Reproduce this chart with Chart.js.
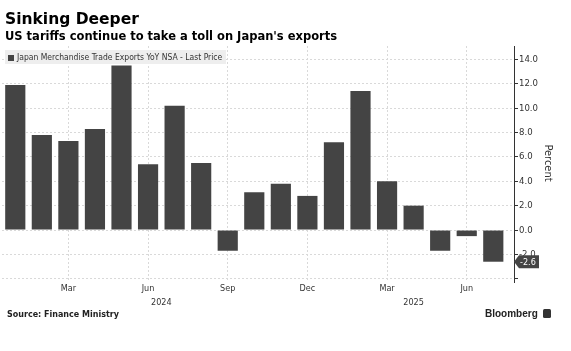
<!DOCTYPE html>
<html>
<head>
<meta charset="utf-8">
<script src="https://cdn.jsdelivr.net/npm/chart.js@4/dist/chart.umd.min.js"></script>
<style>
    body { margin: 0; background: #fff; }
    #wrap { position: relative; width: 571px; height: 351px; overflow: hidden; }
    #title { position: absolute; left: 5px; top: 10px; font: bold 15.5px "DejaVu Sans", sans-serif; color: #000; }
    #subtitle { position: absolute; left: 5px; top: 29px; font: bold 11.5px "DejaVu Sans", sans-serif; color: #000; }
    #legend { position: absolute; left: 5px; top: 50px; height: 14px; padding: 0 4px 0 3px; background: #eeeeee;
        font: 8.5px "DejaVu Sans Condensed", "DejaVu Sans", sans-serif; color: #333; line-height: 14px; white-space: nowrap; }
    #legend span { display: inline-block; width: 6px; height: 6px; background: #444; margin-right: 3px; vertical-align: -0.5px; }
    #source { position: absolute; left: 7px; top: 310px; font: bold 8px "DejaVu Sans", sans-serif; color: #222; }
    #brand { position: absolute; left: 485px; top: 308px; font: bold 10px "Liberation Sans", Arial, sans-serif; color: #222; }
    #brand i { display: inline-block; width: 8px; height: 9px; background: #333; border-radius: 1.5px; margin-left: 5px; vertical-align: -1px; }
</style>
</head>
<body>
<div id="wrap">
    <canvas id="chart" width="571" height="351"></canvas>
    <div id="title">Sinking Deeper</div>
    <div id="subtitle">US tariffs continue to take a toll on Japan's exports</div>
    <div id="legend"></div>
    <div id="source">Source: Finance Ministry</div>
    <div id="brand">Bloomberg<i></i></div>
</div>
<script>
    const seriesLabel = 'Japan Merchandise Trade Exports YoY NSA - Last Price';
    const months = ['Jan', 'Feb', 'Mar', 'Apr', 'May', 'Jun', 'Jul', 'Aug', 'Sep', 'Oct', 'Nov', 'Dec',
        'Jan', 'Feb', 'Mar', 'Apr', 'May', 'Jun', 'Jul'];
    const exportsYoY = [11.9, 7.8, 7.3, 8.3, 13.5, 5.4, 10.2, 5.5, -1.7, 3.1, 3.8, 2.8,
        7.2, 11.4, 4.0, 2.0, -1.7, -0.5, -2.6];
    const monthTicks = [2, 5, 8, 11, 14, 17];
    const yearLabels = ['2024', '2025'];
    const yearTicks = [5.5, 15];

    const xMin = -0.5;
    const xMax = 18.78;

    document.getElementById('legend').innerHTML = '<span></span>' + seriesLabel;

    Chart.defaults.font.family = '"DejaVu Sans Condensed", "DejaVu Sans", sans-serif';
    Chart.defaults.color = '#333';

    // solid right axis line (the grid itself is dotted)
    const axisLine = {
        id: 'axisLine',
        beforeDatasetsDraw(chart) {
            const { ctx, chartArea } = chart;
            const x = Math.round(chartArea.right) + 0.5;
            ctx.save();
            ctx.strokeStyle = '#333';
            ctx.lineWidth = 1;
            ctx.beginPath();
            ctx.moveTo(x, chartArea.top);
            ctx.lineTo(x, chartArea.bottom + 3);
            ctx.stroke();
            ctx.restore();
        }
    };

    // dark tag with the latest value, pointing at the right axis
    const lastPriceTag = {
        id: 'lastPriceTag',
        afterDatasetsDraw(chart) {
            const ctx = chart.ctx;
            const last = exportsYoY[exportsYoY.length - 1];
            const y = chart.scales.y.getPixelForValue(last);
            const x = chart.chartArea.right;
            ctx.save();
            ctx.fillStyle = '#444';
            ctx.beginPath();
            ctx.moveTo(x, y);
            ctx.lineTo(x + 5, y - 6.5);
            ctx.lineTo(x + 25, y - 6.5);
            ctx.lineTo(x + 25, y + 6.5);
            ctx.lineTo(x + 5, y + 6.5);
            ctx.closePath();
            ctx.fill();
            ctx.fillStyle = '#fff';
            ctx.font = '9px "DejaVu Sans Condensed", "DejaVu Sans", sans-serif';
            ctx.textBaseline = 'middle';
            ctx.fillText(last.toFixed(1), x + 6, y + 0.5);
            ctx.restore();
        }
    };

    const gridColor = '#d9d9d9';

    new Chart('chart', {
        type: 'bar',
        data: {
            datasets: [{
                label: seriesLabel,
                data: exportsYoY.map((v, i) => ({ x: i, y: v })),
                backgroundColor: '#444444',
                barPercentage: 0.76,
                categoryPercentage: 1
            }]
        },
        options: {
            responsive: false,
            animation: false,
            layout: { padding: { top: 46, left: 2, right: 0, bottom: 41 } },
            plugins: {
                legend: { display: false },
                tooltip: { enabled: false }
            },
            scales: {
                x: {
                    type: 'linear',
                    min: xMin,
                    max: xMax,
                    offset: false,
                    afterBuildTicks: s => { s.ticks = monthTicks.map(v => ({ value: v })); },
                    afterFit: s => { s.height = 16; },
                    ticks: {
                        autoSkip: false,
                        maxRotation: 0,
                        padding: 3,
                        font: { size: 9 },
                        callback: v => months[v]
                    },
                    grid: { color: gridColor, offset: false, drawTicks: false },
                    border: { display: false, dash: [2, 2] }
                },
                x2: {
                    type: 'linear',
                    position: 'bottom',
                    min: xMin,
                    max: xMax,
                    offset: false,
                    afterBuildTicks: s => { s.ticks = yearTicks.map(v => ({ value: v })); },
                    afterFit: s => { s.height = 14; },
                    ticks: {
                        autoSkip: false,
                        maxRotation: 0,
                        padding: 1,
                        font: { size: 9 },
                        callback: v => yearLabels[yearTicks.indexOf(v)]
                    },
                    grid: { display: false, offset: false, drawTicks: false },
                    border: { display: false }
                },
                y: {
                    position: 'right',
                    min: -4.1,
                    max: 15.1,
                    afterBuildTicks: s => {
                        const t = [];
                        for (let v = -4; v <= 15; v++) t.push({ value: v });
                        s.ticks = t;
                    },
                    afterFit: s => { s.width = 57; },
                    ticks: {
                        padding: 1,
                        font: { size: 9.5 },
                        callback: v => (v % 2 === 0 && v >= -2) ? v.toFixed(1) : ''
                    },
                    grid: {
                        color: c => (c.tick && c.tick.value % 2 === 0) ? gridColor : 'rgba(0,0,0,0)',
                        tickColor: '#333',
                        tickLength: 4
                    },
                    border: { display: false, dash: [2, 2] },
                    title: {
                        display: true,
                        text: 'Percent',
                        color: '#333',
                        font: { size: 11 },
                        padding: { top: 17, bottom: 0 }
                    }
                }
            }
        },
        plugins: [axisLine, lastPriceTag]
    });
</script>
</body>
</html>
